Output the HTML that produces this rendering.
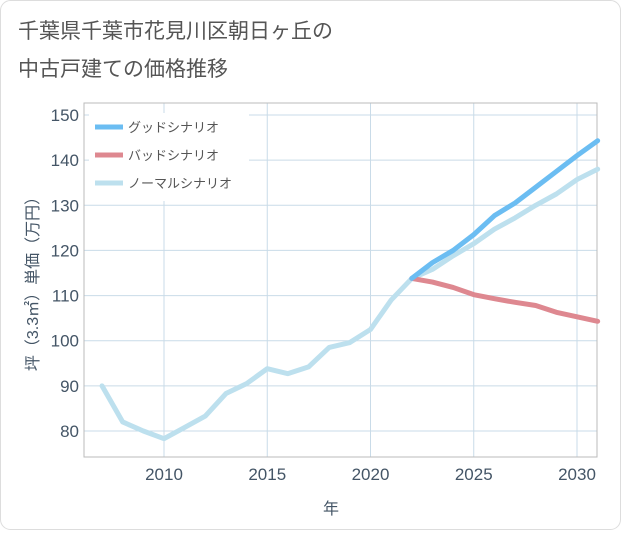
<!DOCTYPE html>
<html><head><meta charset="utf-8"><style>
body{margin:0;background:#fff;font-family:"Liberation Sans","Noto Sans CJK JP",sans-serif;}
#wrap{position:relative;width:621px;height:530px;}
</style></head><body>
<div id="wrap">
<svg id="chart" width="621" height="530" xmlns="http://www.w3.org/2000/svg">
<rect x="0.5" y="0.5" width="620" height="529" rx="10" fill="#fff" stroke="#ddd"/>
<text x="18" y="38" font-size="21" fill="#555">千葉県千葉市花見川区朝日ヶ丘の</text>
<text x="18" y="76" font-size="21" fill="#555">中古戸建ての価格推移</text>
<g id="grid"></g>
<g id="axes"></g>
<g id="series"></g>
<g id="legend"></g>
<text x="331" y="514" font-size="16" fill="#456" text-anchor="middle">年</text>
<text transform="translate(38,280) rotate(-90)" font-size="16" fill="#456" text-anchor="middle">坪（3.3㎡）単価（万円）</text>
</svg>
</div>
<script>
const years=[2007,2008,2009,2010,2011,2012,2013,2014,2015,2016,2017,2018,2019,2020,2021,2022,2023,2024,2025,2026,2027,2028,2029,2030,2031];
const normal=[90,82,80,78.3,80.8,83.3,88.3,90.5,93.8,92.7,94.2,98.5,99.6,102.5,109,113.8,115.8,118.8,121.5,124.7,127.2,130,132.5,135.7,138];
const futYears=[2022,2023,2024,2025,2026,2027,2028,2029,2030,2031];
const good=[113.8,117.3,120,123.5,127.7,130.5,134,137.5,141,144.3];
const bad=[113.8,113,111.8,110.2,109.3,108.5,107.8,106.3,105.3,104.3];
const xTicks=[2010,2015,2020,2025,2030];
const yTicks=[80,90,100,110,120,130,140,150];
const seriesNames=["グッドシナリオ","バッドシナリオ","ノーマルシナリオ"];
const NS="http://www.w3.org/2000/svg";
const L=84,R=597,T=103,B=457;
const x=v=>164+(v-2010)*(577-164)/20;
const y=v=>431-(v-80)*(431-115)/70;
function mk(tag,at,parent){const e=document.createElementNS(NS,tag);for(const k in at)e.setAttribute(k,at[k]);document.getElementById(parent).appendChild(e);return e;}
const gridC="#c9dbe8";
for(const t of xTicks){const l=mk('line',{x1:x(t),x2:x(t),y1:T,y2:B,stroke:gridC},'grid');


const tx=mk('text',{x:x(t),y:480,'font-size':17,fill:'#456','text-anchor':'middle'},'axes');tx.textContent=t;

}
for(const t of yTicks){const l=mk('line',{x1:L,x2:R,y1:y(t),y2:y(t),stroke:gridC},'grid');


const tx=mk('text',{x:79,y:y(t)+6,'font-size':17,fill:'#456','text-anchor':'end'},'axes');tx.textContent=t;

}
const frame=mk('rect',{x:L,y:T,width:R-L,height:B-T,fill:'none',stroke:'#bbb'},'axes');


function line(xs,vs,color,name){const p=mk('polyline',{points:xs.map((v,i)=>x(v)+','+y(vs[i])).join(' '),fill:'none',stroke:color,'stroke-width':5,'stroke-linejoin':'round','stroke-linecap':'round'},'series');

}
const colors=["#6bbdf2","#de8890","#bde0ee"];
line(years,normal,colors[2],'normal-series-line');
line(futYears,bad,colors[1],'bad-series-line');
line(futYears,good,colors[0],'good-series-line');
const lb=mk('rect',{x:89,y:113,width:160,height:88,fill:'#fff'},'legend');


seriesNames.forEach((n,i)=>{const yy=127+i*28;
const sw=mk('line',{x1:95,x2:123,y1:yy,y2:yy,stroke:colors[i],'stroke-width':5},'legend');


const t=mk('text',{x:128,y:yy+5,'font-size':13,fill:'#555'},'legend');t.textContent=n;

});
</script>
</body></html>
